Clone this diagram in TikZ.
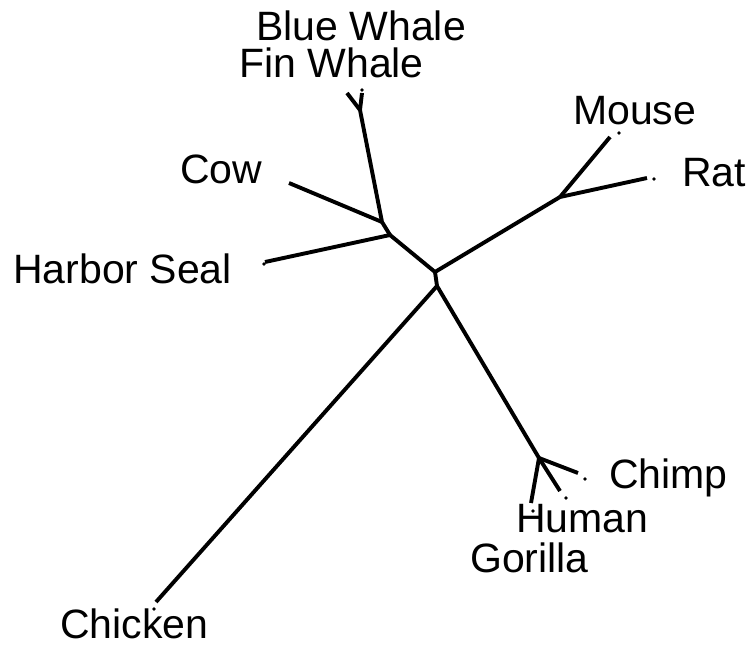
\documentclass[tikz,border=0pt]{standalone}
\usepackage{fontspec}
\setmainfont{Liberation Sans}
\begin{document}
\begin{tikzpicture}[x=1pt,y=-1pt,
  branch/.style={line width=3.9pt,line join=round},
  taxon/.style={anchor=base west,inner sep=0pt,font=\fontsize{41}{41}\selectfont},
  tipdot/.style={fill=black,circle,inner sep=0pt,minimum size=3.6pt}]
\useasboundingbox (0,0) rectangle (749,647);
% internal nodes of the tree
\coordinate (whales) at (360,110);
\coordinate (cowwh) at (382,222);
\coordinate (seal) at (390,235);
\coordinate (root) at (435,272);
\coordinate (rootb) at (437,286);
\coordinate (rodents) at (560,197);
\coordinate (primates) at (539,458);
% branch tips
\coordinate (tblue) at (347,93);
\coordinate (tfin) at (362,93);
\coordinate (tcow) at (289,183);
\coordinate (tseal) at (265,262);
\coordinate (tmouse) at (610,137);
\coordinate (trat) at (647,178);
\coordinate (tchimp) at (578,473);
\coordinate (thuman) at (560,491);
\coordinate (tgorilla) at (531,503);
\coordinate (tchicken) at (156,602);
% branches
\draw[branch] (tblue) -- (whales);
\draw[branch] (tfin) -- (whales);
\draw[branch] (whales) -- (cowwh);
\draw[branch] (tcow) -- (cowwh);
\draw[branch] (cowwh) -- (seal);
\draw[branch] (tseal) -- (seal);
\draw[branch] (seal) -- (root);
\draw[branch] (root) -- (rodents);
\draw[branch] (rodents) -- (tmouse);
\draw[branch] (rodents) -- (trat);
\draw[branch] (root) -- (rootb);
\draw[branch] (rootb) -- (tchicken);
\draw[branch] (rootb) -- (primates);
\draw[branch] (primates) -- (tchimp);
\draw[branch] (primates) -- (thuman);
\draw[branch] (primates) -- (tgorilla);
% small marks beside the tips
\node[tipdot] (dfin) at (362,90) {};
\node[tipdot] (dseal) at (264,264) {};
\node[tipdot] (dmouse) at (619,133) {};
\node[tipdot] (drat) at (654,179) {};
\node[tipdot] (dchimp) at (585,479) {};
\node[tipdot] (dhuman) at (566,498) {};
\node[tipdot] (dgorilla) at (533,511) {};
\node[tipdot] (dchicken) at (154,609) {};
% taxon labels
\node[taxon] (lblue) at (256,41) {Blue Whale};
\node[taxon] (lfin) at (239,78) {Fin Whale};
\node[taxon] (lcow) at (180,183) {Cow};
\node[taxon] (lseal) at (13,283) {Harbor Seal};
\node[taxon] (lmouse) at (573,125) {Mouse};
\node[taxon] (lrat) at (682,186) {Rat};
\node[taxon] (lchimp) at (609,488) {Chimp};
\node[taxon] (lhuman) at (516,532) {Human};
\node[taxon] (lgorilla) at (470,572) {Gorilla};
\node[taxon] (lchicken) at (60,638) {Chicken};
\end{tikzpicture}
\end{document}
